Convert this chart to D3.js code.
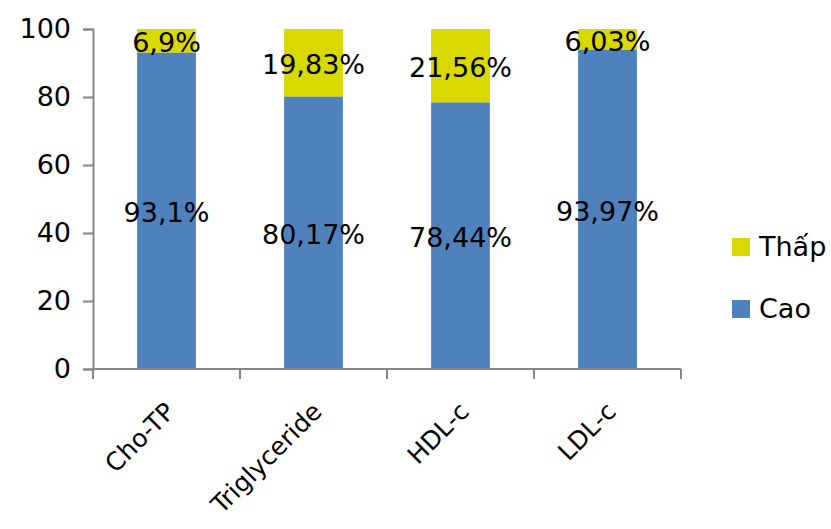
<!DOCTYPE html>
<html>
<head>
<meta charset="utf-8">
<script src="https://cdn.jsdelivr.net/npm/d3@7"></script>
<style>
  body { margin: 0; background: #fff; }
  text { font-family: "DejaVu Sans", sans-serif; }
</style>
</head>
<body>
<div id="chart"></div>
<script>
// chart data
var categories = ["Cho-TP", "Triglyceride", "HDL-c", "LDL-c"];
var cao = [93.1, 80.17, 78.44, 93.97];
var thap = [6.9, 19.83, 21.56, 6.03];
var caoLabels = ["93,1%", "80,17%", "78,44%", "93,97%"];
var thapLabels = ["6,9%", "19,83%", "21,56%", "6,03%"];
var yTicks = [0, 20, 40, 60, 80, 100];

var svgWidth = 831, svgHeight = 529;
var margin = { top: 29, left: 93, right: 150, bottom: 160 };
var width = 681 - margin.left;
var height = 369 - margin.top;
var fontSize = 27;

var svg = d3.select("#chart").append("svg")
  .attr("width", svgWidth)
  .attr("height", svgHeight);

var g = svg.append("g")
  .attr("transform", `translate(${margin.left}, ${margin.top})`);

var x = d3.scaleBand().domain(categories).range([0, width]).paddingInner(0.6).paddingOuter(0.3);
var y = d3.scaleLinear().domain([0, 100]).range([height, 0]);

// stacked rows
var rows = categories.map((c, i) => ({ cat: c, Cao: cao[i], Thap: thap[i] }));
var stack = d3.stack().keys(["Cao", "Thap"])(rows);
var colors = { Cao: "#4F81BD", Thap: "#D9D900" };

g.selectAll(".layer")
  .data(stack)
  .enter().append("g")
  .attr("fill", d => colors[d.key])
  .selectAll("rect")
  .data(d => d)
  .enter().append("rect")
  .attr("x", d => x(d.data.cat))
  .attr("y", d => y(d[1]))
  .attr("width", x.bandwidth())
  .attr("height", d => y(d[0]) - y(d[1]));

// axes
var axisColor = "#868686";
var yAxis = g.append("g")
  .call(d3.axisLeft(y).tickValues(yTicks).tickSize(10).tickSizeOuter(10).tickPadding(12));
yAxis.select(".domain").attr("stroke", axisColor).attr("stroke-width", 2);
yAxis.selectAll(".tick line").attr("stroke", axisColor).attr("stroke-width", 2);
yAxis.selectAll("text")
  .attr("font-size", fontSize)
  .attr("fill", "#000")
  .attr("font-family", "DejaVu Sans");

var boundaries = d3.range(categories.length + 1).map(i => i * width / categories.length);
var xLine = g.append("g").attr("transform", `translate(0, ${height})`);
xLine.append("line")
  .attr("x1", 0).attr("x2", width)
  .attr("stroke", axisColor).attr("stroke-width", 2);
xLine.selectAll(".xt")
  .data(boundaries)
  .enter().append("line")
  .attr("x1", d => d).attr("x2", d => d)
  .attr("y1", 0).attr("y2", 10)
  .attr("stroke", axisColor).attr("stroke-width", 2);

// category labels (slightly smaller so Triglyceride stays inside the frame)
g.selectAll(".cat")
  .data(categories)
  .enter().append("text")
  .attr("text-anchor", "end")
  .attr("font-size", 25)
  .attr("transform", d => `translate(${x(d) + x.bandwidth() / 2 + 10}, ${height + 44}) rotate(-45)`)
  .text(d => d);

// value labels
stack.forEach(function(layer) {
  var labels = layer.key === "Cao" ? caoLabels : thapLabels;
  g.selectAll(".lbl-" + layer.key)
    .data(layer)
    .enter().append("text")
    .attr("x", d => x(d.data.cat) + x.bandwidth() / 2)
    .attr("y", d => y((d[0] + d[1]) / 2) + 2)
    .attr("dy", "0.35em")
    .attr("text-anchor", "middle")
    .attr("font-size", fontSize)
    .attr("fill", "#000")
    .text((d, i) => labels[i]);
});

// legend
var legend = svg.append("g").attr("transform", "translate(732, 238)");
var legendItems = [{ name: "Thấp", color: colors.Thap }, { name: "Cao", color: colors.Cao }];
legend.selectAll("rect")
  .data(legendItems)
  .enter().append("rect")
  .attr("x", 0)
  .attr("y", (d, i) => i * 62)
  .attr("width", 18).attr("height", 18)
  .attr("fill", d => d.color);
legend.selectAll("text")
  .data(legendItems)
  .enter().append("text")
  .attr("x", 27)
  .attr("y", (d, i) => i * 62 + 9)
  .attr("dy", "0.35em")
  .attr("font-size", fontSize)
  .text(d => d.name);
</script>
</body>
</html>
